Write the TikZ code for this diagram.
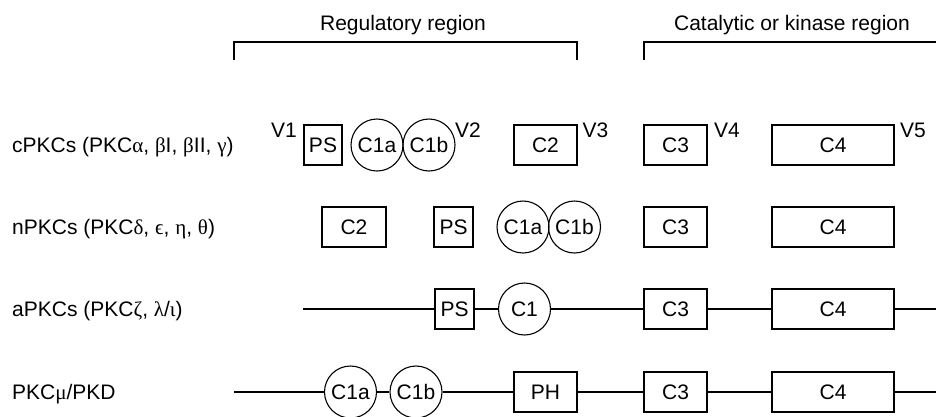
\documentclass[tikz,border=0pt]{standalone}
\usepackage{fontspec}
\setmainfont{Liberation Sans}
\newfontfamily\grk{Liberation Serif}
\begin{document}
\begin{tikzpicture}[x=1pt,y=-1pt,
  every node/.style={font=\fontsize{21}{25}\selectfont},
  line/.style={line width=1.1pt},
  dbox/.style={draw,line width=1.1pt,rectangle,minimum height=40pt,inner sep=0pt},
  dcirc/.style={draw,line width=1.1pt,circle,minimum size=52pt,inner sep=0pt},
  vlab/.style={anchor=base,inner sep=0pt},
  rowlab/.style={anchor=base west,inner sep=0pt},
  head/.style={anchor=base,inner sep=0pt}]
\useasboundingbox (0,0) rectangle (936,416);

% region headings and brackets
\node[head] (hreg) at (403,30) {Regulatory region};
\node[head] (hcat) at (792,30) {Catalytic or kinase region};
\coordinate (rb1) at (234,60);
\coordinate (rb2) at (234,42);
\coordinate (rb3) at (577,42);
\coordinate (rb4) at (577,60);
\draw[line] (rb1) -- (rb2) -- (rb3) -- (rb4);
\coordinate (cb1) at (644,60);
\coordinate (cb2) at (644,42);
\coordinate (cb3) at (936,42);
\draw[line] (cb1) -- (cb2) -- (cb3);

% cPKCs
\node[rowlab] (l1) at (12,152.5) {cPKCs (PKC{\grk α}, {\grk β}I, {\grk β}II, {\grk γ})};
\node[dbox,minimum width=38pt] (ps1) at (323,145) {PS};
\node[dcirc] (c1a1) at (377,145) {C1a};
\node[dcirc] (c1b1) at (429,145) {C1b};
\node[dbox,minimum width=63pt] (c21) at (545.5,145) {C2};
\node[dbox,minimum width=63pt] (c31) at (675.5,145) {C3};
\node[dbox,minimum width=122pt] (c41) at (833,145) {C4};
\node[vlab] (v1) at (284,137) {V1};
\node[vlab] (v2) at (468,137) {V2};
\node[vlab] (v3) at (595.5,137) {V3};
\node[vlab] (v4) at (727,137) {V4};
\node[vlab] (v5) at (913,137) {V5};

% nPKCs
\node[rowlab] (l2) at (12,234.5) {nPKCs (PKC{\grk δ}, {\grk ϵ}, {\grk η}, {\grk θ})};
\node[dbox,minimum width=64pt] (c22) at (354,227) {C2};
\node[dbox,minimum width=39pt] (ps2) at (453.5,227) {PS};
\node[dcirc] (c1a2) at (523,227) {C1a};
\node[dcirc] (c1b2) at (574.5,227) {C1b};
\node[dbox,minimum width=63pt] (c32) at (675.5,227) {C3};
\node[dbox,minimum width=122pt] (c42) at (833,227) {C4};

% aPKCs
\node[rowlab] (l3) at (12,316.5) {aPKCs (PKC{\grk ζ}, {\grk λ}/{\grk ι})};
\coordinate (s3) at (303,309);
\node[dbox,minimum width=39pt] (ps3) at (454.5,309) {PS};
\node[dcirc] (c13) at (524.5,309) {C1};
\node[dbox,minimum width=63pt] (c33) at (675.5,309) {C3};
\node[dbox,minimum width=122pt] (c43) at (833,309) {C4};
\coordinate (e3) at (936,309);
\draw[line] (s3) -- (ps3) -- (c13) -- (c33) -- (c43) -- (e3);

% PKCmu/PKD
\node[rowlab] (l4) at (12,399.5) {PKC{\grk μ}/PKD};
\coordinate (s4) at (234,392);
\node[dcirc] (c1a4) at (350.5,392) {C1a};
\node[dcirc] (c1b4) at (416,392) {C1b};
\node[dbox,minimum width=63pt] (ph4) at (545.5,392) {PH};
\node[dbox,minimum width=63pt] (c34) at (675.5,392) {C3};
\node[dbox,minimum width=122pt] (c44) at (833,392) {C4};
\coordinate (e4) at (936,392);
\draw[line] (s4) -- (c1a4) -- (c1b4) -- (ph4) -- (c34) -- (c44) -- (e4);
\end{tikzpicture}
\end{document}
